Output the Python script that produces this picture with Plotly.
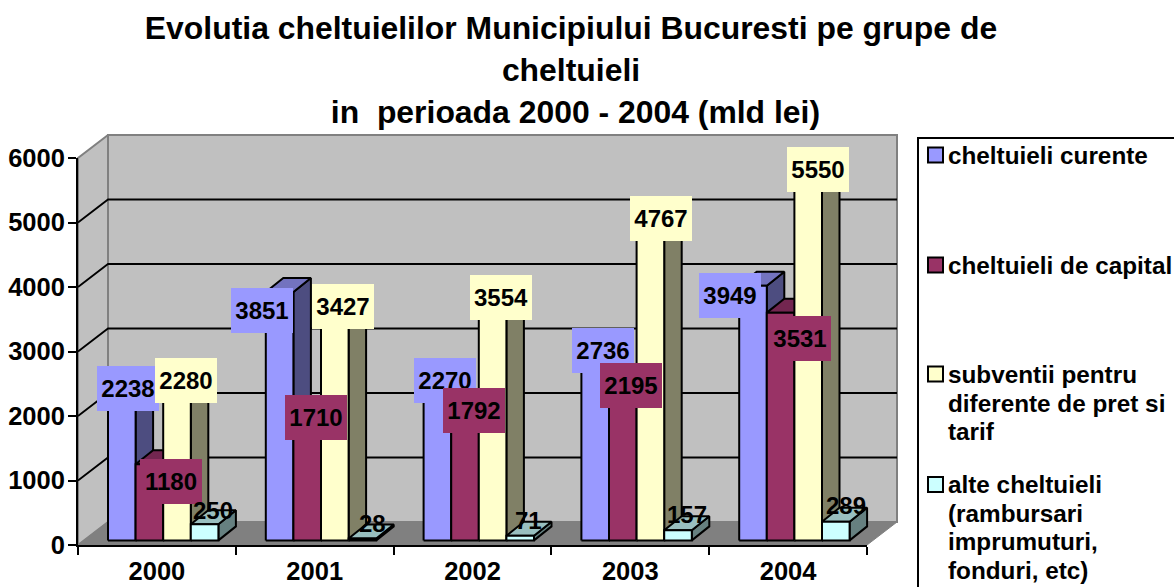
import plotly.graph_objects as go

# ---- data ----
YEARS = ["2000", "2001", "2002", "2003", "2004"]
CURENTE = [2238, 3851, 2270, 2736, 3949]
CAPITAL = [1180, 1710, 1792, 2195, 3531]
SUBVENTII = [2280, 3427, 3554, 4767, 5550]
ALTE = [250, 28, 71, 157, 289]
SERIES_NAMES = [
    "cheltuieli curente",
    "cheltuieli de capital",
    "subventii pentru<br>diferente de pret si<br>tarif",
    "alte cheltuieli<br>(rambursari<br>imprumuturi,<br>fonduri, etc)",
]
Y_TICKS = [0, 1000, 2000, 3000, 4000, 5000, 6000]
TITLE_LINES = [
    "Evolutia cheltuielilor Municipiului Bucuresti pe grupe de",
    "cheltuieli",
    " in  perioada 2000 - 2004 (mld lei)",
]

# ---- style / layout ----
SERIES = [CURENTE, CAPITAL, SUBVENTII, ALTE]
FRONT = ["#9999FF", "#993366", "#FFFFCC", "#CCFFFF"]
TOP = ["#7373BF", "#732650", "#BFBF99", "#99BFBF"]
SIDE = ["#4D4D80", "#4D1A33", "#808066", "#668080"]
LABEL_BG = ["#9999FF", "#993366", "#FFFFCC", None]
# label offset (px) from the top-centre of each bar's front face: [series][year]
LABEL_SHIFT = [
    [(6, -8), (-18, 18), (8, -13), (8, -13), (-23, 10)],
    [(22, 17), (9, -13), (9, -14), (8, -13), (19, 26)],
    [(9, -13), (8, -13), (8, -14), (11, -14), (10, -13)],
    [(8, -14), (10, -15), (8, -15), (9, -16), (10, -16)],
]
W, H = 1174, 587
# front plane of the box (the visible axes)
L, R_PX, T_PX, B_PX = 78, 867, 158, 545
# drawing area holding the whole 3-D box
AL, AR, AT, AB = 60, 905, 125, 552
N = len(YEARS)
YMAX = max(Y_TICKS)
PX_X = (R_PX - L) / N          # px per category
PX_Y = (B_PX - T_PX) / YMAX    # px per value unit
DX, DY = 30 / PX_X, 23 / PX_Y           # full depth of the box, data units
BAR_W = 27.6 / PX_X
BAR_START = 24 / PX_X
BAR_DX0, BAR_DY0 = 6 / PX_X, 4.6 / PX_Y    # bar's front plane
BAR_DX, BAR_DY = 17.5 / PX_X, 14 / PX_Y    # bar's depth
FONT = "Liberation Sans, Arial, sans-serif"

fig = go.Figure()


def poly(xs, ys, fill, line="#000000", width=2):
    fig.add_trace(go.Scatter(
        x=list(xs) + [xs[0]], y=list(ys) + [ys[0]], mode="lines", fill="toself",
        fillcolor=fill, line=dict(color=line, width=width),
        hoverinfo="skip", showlegend=False))


def seg(xs, ys, color="#000000", width=1.8):
    fig.add_trace(go.Scatter(
        x=xs, y=ys, mode="lines", line=dict(color=color, width=width),
        hoverinfo="skip", showlegend=False))


# walls and floor
poly([DX, N + DX, N + DX, DX], [DY, DY, YMAX + DY, YMAX + DY], "#C0C0C0", "#808080", 2)
poly([0, DX, DX, 0], [0, DY, YMAX + DY, YMAX], "#C0C0C0", "#808080", 2)
poly([0, N, N + DX, DX], [0, 0, DY, DY], "#808080", "#808080", 1)

# gridlines on the walls
for v in Y_TICKS[1:-1]:
    seg([0, DX, N + DX], [v, v + DY, v + DY])

# bars
anchors = []
for i in range(N):
    for j, vals in enumerate(SERIES):
        v = vals[i]
        x0 = i + BAR_START + j * BAR_W + BAR_DX0
        x1 = x0 + BAR_W
        y0 = BAR_DY0
        y1 = v + BAR_DY0
        poly([x1, x1 + BAR_DX, x1 + BAR_DX, x1], [y0, y0 + BAR_DY, y1 + BAR_DY, y1], SIDE[j])
        poly([x0, x1, x1 + BAR_DX, x0 + BAR_DX], [y1, y1, y1 + BAR_DY, y1 + BAR_DY], TOP[j])
        poly([x0, x1, x1, x0], [y0, y0, y1, y1], FRONT[j])
        anchors.append((i, j, (x0 + x1) / 2, y1))

# invisible carrier so that the visible front-plane axes are rendered
fig.add_trace(go.Scatter(x=[0, N], y=[0, YMAX], mode="markers", marker=dict(opacity=0), xaxis="x2", yaxis="y2",
                         hoverinfo="skip", showlegend=False))

annotations = []
for i, j, ax, ay in anchors:
    sx, sy = LABEL_SHIFT[j][i]
    a = dict(x=ax, y=ay, xref="x", yref="y", xshift=sx, yshift=-sy, showarrow=False,
             text=str(SERIES[j][i]), font=dict(family=FONT, size=24, color="#000000", weight="bold"),
             xanchor="center", yanchor="middle", borderpad=0, borderwidth=0)
    if LABEL_BG[j]:
        a.update(bgcolor=LABEL_BG[j], width=62, height=45)
    annotations.append(a)


def px(x):
    return (x - AL) / (AR - AL)


def py(y):
    return (AB - y) / (AB - AT)


# legend: box, swatches, wrapped entries
LEGEND_SWATCH_Y = [155, 265, 374, 484.5]
shapes = [dict(type="rect", xref="paper", yref="paper", x0=px(918), x1=px(1190), y0=py(600), y1=py(138),
               line=dict(color="#000000", width=2), fillcolor="rgba(0,0,0,0)")]
for name, color, sy in zip(SERIES_NAMES, FRONT, LEGEND_SWATCH_Y):
    shapes.append(dict(type="rect", xref="paper", yref="paper", x0=px(928), x1=px(943),
                       y0=py(sy + 7.5), y1=py(sy - 7.5), fillcolor=color,
                       line=dict(color="#000000", width=2)))
    annotations.append(dict(
        x=px(946), y=py(sy - 15.5), xref="paper", yref="paper", showarrow=False,
        xanchor="left", yanchor="top", align="left",
        text='<span style="font-size:24.3px">' + name.replace("<br>", '</span><br><span style="font-size:24.3px">') + "</span>",
        font=dict(family=FONT, size=22, color="#000000", weight="bold")))

title_text = "<br>".join('<span style="font-size:31.9px">%s</span>' % t.replace("  ", "\u00a0 ") for t in TITLE_LINES)

x_range = [(AL - L) / PX_X, (AR - L) / PX_X]
y_range = [(B_PX - AB) / PX_Y, (B_PX - AT) / PX_Y]

fig.update_layout(
    width=W, height=H, autosize=False,
    margin=dict(l=AL, r=W - AR, t=AT, b=H - AB, pad=0, autoexpand=False),
    paper_bgcolor="#FFFFFF", plot_bgcolor="rgba(0,0,0,0)",
    showlegend=False, annotations=annotations, shapes=shapes,
    title=dict(text=title_text, x=571 / W, xanchor="center", xref="container",
               y=1 - 39 / H, yref="container", yanchor="top", automargin=False,
               font=dict(family=FONT, size=32.3, color="#000000", weight="bold")),
    font=dict(family=FONT, color="#000000", weight="bold"),
    xaxis=dict(range=x_range, visible=False, domain=[0, 1], automargin=False),
    yaxis=dict(range=y_range, visible=False, domain=[0, 1], automargin=False),
    xaxis2=dict(range=[0, N], anchor="y2", domain=[px(L), px(R_PX)], automargin=False,
                tickmode="array", tickvals=[i + 0.5 for i in range(N)], ticktext=YEARS,
                ticks="", showgrid=False, zeroline=False, showline=True, linecolor="#000000", linewidth=2,
                tickfont=dict(family=FONT, size=25.5, color="#000000", weight="bold"), ticklabelstandoff=2,
                minor=dict(tickmode="array", tickvals=list(range(N + 1)), ticks="outside", ticklen=8,
                           tickcolor="#000000", tickwidth=2, showgrid=False)),
    yaxis2=dict(range=[0, YMAX], anchor="x2", domain=[py(B_PX), py(T_PX)], automargin=False,
                tickmode="array", tickvals=Y_TICKS, ticks="outside", ticklen=8, tickwidth=2,
                ticklabelstandoff=-2,
                tickcolor="#000000", showgrid=False, zeroline=False, showline=True, linecolor="#000000", linewidth=2,
                tickfont=dict(family=FONT, size=25.5, color="#000000", weight="bold")),
)

fig.write_html("out.html", config=dict(displayModeBar=False),
               post_script="document.body.style.margin='0';document.body.style.overflow='hidden';")
